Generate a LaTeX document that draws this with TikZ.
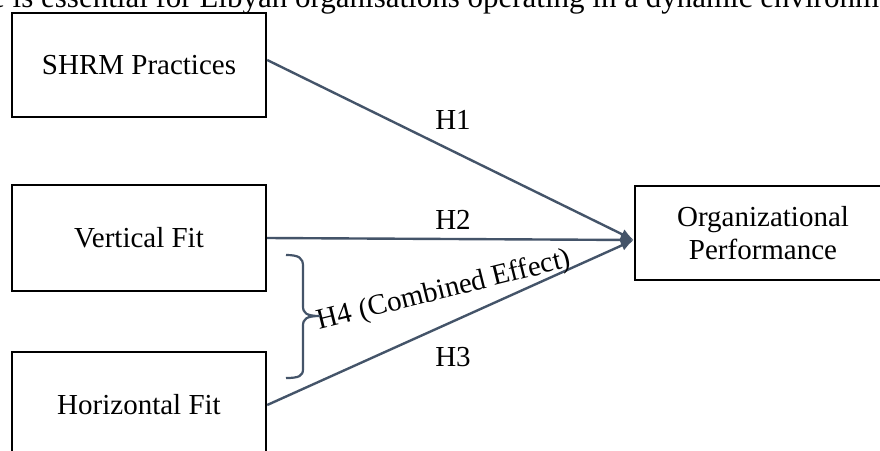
\documentclass[tikz,border=0pt]{standalone}
\usepackage{fontspec}
\setmainfont{Liberation Serif}
\usetikzlibrary{arrows.meta,calc}
\definecolor{slate}{HTML}{445469}
\tikzset{
  box/.style={draw=black, line width=2.4pt, minimum width=254pt, inner sep=0pt, align=center,
    font=\fontsize{29}{33}\selectfont},
  conn/.style={draw=slate, line width=2.4pt, -{Latex[length=13pt,width=11pt]}},
  lbl/.style={font=\fontsize{29}{33}\selectfont, inner sep=0pt},
  brc/.style={draw=slate, line width=2.2pt}
}
\begin{document}
\begin{tikzpicture}[x=1pt,y=-1pt]
\clip (0,0) rectangle (880,450);
\fill[white] (0,0) rectangle (880,450);
% cut-off running text at the top
\node[lbl, anchor=base west] (toptext) at (-9,7) {\fontsize{31}{35}\selectfont e is essential for Libyan organisations operating in a dynamic environment};
% boxes
\node[box, minimum height=104pt] (b1) at (139,65) {SHRM Practices};
\node[box, minimum height=106pt] (b2) at (139,238) {Vertical Fit};
\node[box, minimum height=106pt] (b3) at (139,405) {Horizontal Fit};
\node[box, minimum width=256pt, minimum height=94pt] (b4) at (763,233) {Organizational\\Performance};
\coordinate (tip) at ([yshift=-7pt]b4.west);
\coordinate (s1) at ([yshift=5pt]b1.east);
% connectors
\draw[conn] (s1) -- (tip);
\draw[conn] (b2.east) -- (tip);
\draw[conn] (b3.east) -- (tip);
% labels
\node[lbl] (h1) at (453,120) {H1};
\node[lbl] (h2) at (453,220) {H2};
\node[lbl] (h3) at (453,357) {H3};
\node[lbl, rotate=14, anchor=base] (h4) at (446,298) {H4 (Combined Effect)};
% brace
\draw[brc] (286,255) .. controls (299,255) and (303,258) .. (303,266) -- (303,306)
  .. controls (303,313) and (306,316) .. (320,316)
  .. controls (306,316) and (303,319) .. (303,326) -- (303,369)
  .. controls (303,376) and (299,378) .. (286,378);
\end{tikzpicture}
\end{document}
